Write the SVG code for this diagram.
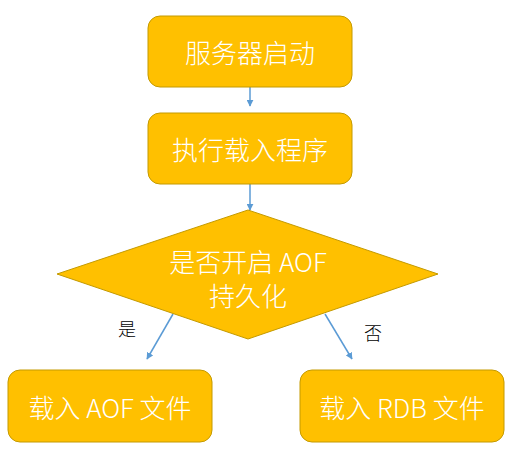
<svg xmlns="http://www.w3.org/2000/svg" width="513" height="453" viewBox="0 0 513 453">
<style>
.n{fill:#FFC000;stroke:#C49A00;stroke-width:1}
.t{font-family:"Noto Sans CJK SC","Noto Sans",sans-serif;font-size:26px;font-weight:300;fill:#fff;text-anchor:middle;dominant-baseline:central}
.l{font-family:"Noto Sans CJK SC","Noto Sans",sans-serif;font-size:18px;font-weight:300;fill:#000;text-anchor:middle;dominant-baseline:central}
.c{stroke:#5B9BD5;stroke-width:1.5;fill:none;marker-end:url(#a)}
</style>
<defs>
<marker id="a" viewBox="0 0 10 10" refX="9" refY="5" markerWidth="7" markerHeight="7" markerUnits="userSpaceOnUse" orient="auto">
<path d="M0,0L10,5L0,10z" fill="#5B9BD5"/>
</marker>
</defs>
<rect width="513" height="453" fill="#fff"/>
<g id="connectors">
<line class="c" x1="250" y1="87" x2="250" y2="106"/>
<line class="c" x1="250" y1="184" x2="250" y2="210"/>
<line class="c" x1="173" y1="314" x2="147" y2="359"/>
<line class="c" x1="325" y1="314" x2="352" y2="359"/>
<text class="l" x="127" y="328">是</text>
<text class="l" x="373" y="332">否</text>
</g>
<g id="start">
<rect class="n" x="148" y="16" width="204" height="71" rx="12"/>
<text class="t" x="250" y="51">服务器启动</text>
</g>
<g id="load">
<rect class="n" x="148" y="113" width="204" height="71" rx="12"/>
<text class="t" x="250" y="148">执行载入程序</text>
</g>
<g id="decision">
<polygon class="n" points="248,210 438,274 248,339 57,274"/>
<text class="t" x="248" y="260">是否开启 AOF</text>
<text class="t" x="248" y="294">持久化</text>
</g>
<g id="aof">
<rect class="n" x="8" y="370" width="204" height="72" rx="12"/>
<text class="t" x="110" y="406">载入 AOF 文件</text>
</g>
<g id="rdb">
<rect class="n" x="300" y="370" width="204" height="72" rx="12"/>
<text class="t" x="402" y="406">载入 RDB 文件</text>
</g>
</svg>
